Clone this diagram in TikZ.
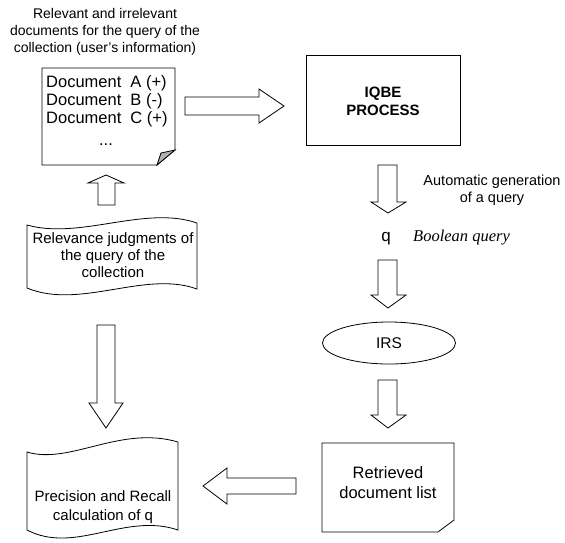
\documentclass[tikz,border=0pt]{standalone}
\usepackage{fontspec}
\setmainfont{Liberation Sans}
\newfontfamily\timesf{Liberation Serif}
\usetikzlibrary{shapes.geometric}
\tikzset{
  ln/.style={draw=black, line width=0.8pt, line join=miter},
  blk/.style={ln, fill=white},
  txt/.style={inner sep=0pt, align=center},
}
\newcommand{\fs}[2]{\fontsize{#1}{#2}\selectfont}
\begin{document}
\begin{tikzpicture}[x=1pt, y=-1pt]
\useasboundingbox (0,0) rectangle (565,542);

% ---- top label
\node[txt, font=\fs{14}{17}] (toplabel) at (105,31.5)
  {Relevant and irrelevant\\documents for the query of the\\collection (user's information)};

% ---- document box with dog-ear
\coordinate (docNW) at (42,68);
\draw[ln, fill=white] (docNW) -- (175,68) -- (175,150) -- (157,165) -- (42,165) -- cycle;
\draw[ln, fill=black!30] (175,150) -- (161,153) -- (157,165) -- cycle;
\node[inner sep=0pt, anchor=base west, font=\fs{16.5}{18}] (docA) at (46,87) {Document\hspace{0.55em}A (+)};
\node[inner sep=0pt, anchor=base west, font=\fs{16.5}{18}] (docB) at (46,105) {Document\hspace{0.55em}B (-)};
\node[inner sep=0pt, anchor=base west, font=\fs{16.5}{18}] (docC) at (46,123) {Document\hspace{0.55em}C (+)};
\node[inner sep=0pt, anchor=base, font=\fs{16.5}{18}] (docdots) at (106,145) {...};

% ---- IQBE process
\node[ln, fill=white, minimum width=154pt, minimum height=90pt, inner sep=0pt] (iqbe) at (383,100) {};
\node[txt, font=\bfseries\fs{15}{18}] (iqbetext) at (383,101) {IQBE\\PROCESS};

% ---- right arrow doc -> IQBE
\draw[blk] (185,97) -- (259,97) -- (259,89) -- (284,106) -- (259,123) -- (259,115) -- (185,115) -- cycle;

% ---- down arrow 1
\draw[blk] (378,165) -- (397,165) -- (397,202) -- (406,202) -- (388,213) -- (371,202) -- (378,202) -- cycle;
\node[txt, font=\fs{14.5}{16.5}] (autogen) at (492,190) {Automatic generation\\of a query};

% ---- q
\node[inner sep=0pt, anchor=base, font=\fs{17}{18}] (q) at (386,241) {q};
\node[inner sep=0pt, anchor=base west, font=\timesf\itshape\fs{16.5}{18}] (bq) at (413,241) {Boolean query};

% ---- down arrow 2
\draw[blk] (378,260) -- (397,260) -- (397,295) -- (406,295) -- (388,308) -- (371,295) -- (378,295) -- cycle;

% ---- IRS ellipse
\node[ln, fill=white, ellipse, minimum width=133pt, minimum height=42pt, inner sep=0pt] (irs) at (389,343) {};
\node[txt, font=\fs{15.5}{18}] (irstext) at (389,343) {IRS};

% ---- down arrow 3
\draw[blk] (378,380) -- (397,380) -- (397,415) -- (406,415) -- (388,428) -- (371,415) -- (378,415) -- cycle;

% ---- Retrieved document list
\draw[ln, fill=white] (322,443) -- (454,443) -- (454,520) -- (438,532) -- (322,532) -- cycle;
\node[txt, font=\fs{16.5}{20}] (retr) at (388,483) {Retrieved\\document list};

% ---- left arrow retrieved -> precision
\draw[blk] (296,478) -- (227,478) -- (227,468) -- (203,486) -- (227,504) -- (227,494) -- (296,494) -- cycle;

% ---- Relevance judgments tape
\draw[ln, fill=white] (27,225) .. controls (80,240) and (145,205) .. (197,223) -- (197,289)
  .. controls (145,270) and (80,310) .. (27,288) -- cycle;
\node[txt, font=\fs{15}{17}] (relev) at (113,255) {Relevance judgments of\\the query of the\\collection};

% ---- up arrow relevance -> doc
\draw[blk] (98,205) -- (115,205) -- (115,183) -- (124,183) -- (106,175) -- (88,183) -- (98,183) -- cycle;

% ---- down arrow relevance -> precision
\draw[blk] (97,325) -- (115,325) -- (115,403) -- (123,403) -- (106,428) -- (89,403) -- (97,403) -- cycle;

% ---- Precision tape
\draw[ln, fill=white] (27,452) .. controls (70,465) and (120,425) .. (178,442) -- (178,530)
  .. controls (125,512) and (75,555) .. (27,530) -- cycle;
\node[txt, font=\fs{15}{19}] (prec) at (103,507) {Precision and Recall\\calculation of q};
\end{tikzpicture}
\end{document}
